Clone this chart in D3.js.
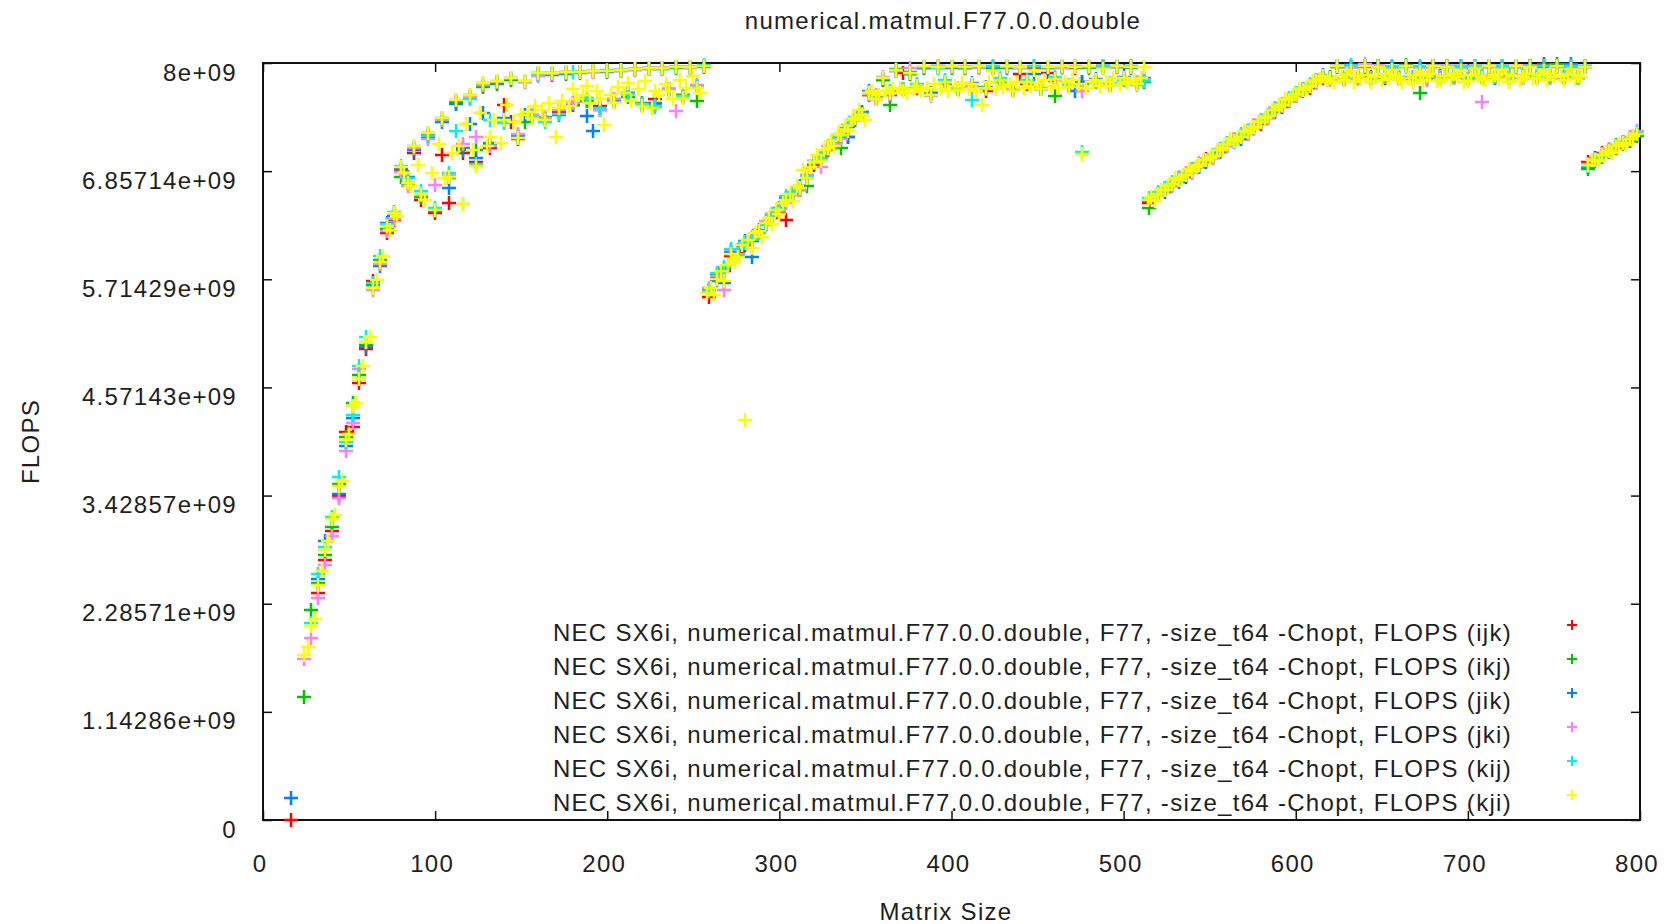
<!DOCTYPE html>
<html>
<head>
<meta charset="utf-8">
<script src="https://cdn.jsdelivr.net/npm/d3@7"></script>
<style>
  html, body { margin: 0; padding: 0; background: #fff; }
  svg { display: block; }
  text { font-family: "Liberation Sans", Arial, sans-serif; font-size: 24px; letter-spacing: 1.3px; fill: #1e1e1e; }
</style>
</head>
<body>
<svg id="chart" width="1675" height="924"></svg>
<script>
// Labels
const chartTitle = "numerical.matmul.F77.0.0.double";
const xTitle = "Matrix Size";
const yTitle = "FLOPS";
const xTickLabels = ["0", "100", "200", "300", "400", "500", "600", "700", "800"];
const yTickLabels = ["0", "1.14286e+09", "2.28571e+09", "3.42857e+09", "4.57143e+09",
                     "5.71429e+09", "6.85714e+09", "8e+09"];
const legendPrefix = "NEC SX6i, numerical.matmul.F77.0.0.double, F77, -size_t64 -Chopt, FLOPS";
const loopOrders = ["ijk", "ikj", "jik", "jki", "kij", "kji"];
const orderColors = ["#ff0000", "#00c000", "#0080ff", "#ff80ff", "#00eeee", "#ffff00"];

// Matrix sizes measured for ijk, ikj, jik, jki, kij
const sizes = [
  16,20,24,28,32,36,40,44,
  48,52,56,60,64,68,72,76,
  80,84,88,92,96,100,104,108,
  112,116,120,124,128,132,136,140,
  144,148,152,156,160,164,168,172,
  176,180,184,188,192,196,200,204,
  208,212,216,220,224,228,232,236,
  240,244,248,252,256,259,264,268,
  272,276,280,284,288,292,296,300,
  304,308,312,316,320,324,328,332,
  336,340,344,348,352,356,360,364,
  368,372,376,380,384,388,392,396,
  400,404,408,412,416,420,424,428,
  432,436,440,444,448,452,456,460,
  464,468,472,476,480,484,488,492,
  496,500,504,508,512,515,520,524,
  528,532,536,540,544,548,552,556,
  560,564,568,572,576,580,584,588,
  592,596,600,604,608,612,616,620,
  624,628,632,636,640,644,648,652,
  656,660,664,668,672,676,680,684,
  688,692,696,700,704,708,712,716,
  720,724,728,732,736,740,744,748,
  752,756,760,764,768,770,774,778,
  782,786,790,794,798
];

// Matrix sizes measured for kji
const kjiSizes = [
  24,26,28,30,32,34,36,38,
  40,42,44,46,48,50,52,54,
  56,58,60,62,64,66,68,70,
  72,74,76,78,80,82,84,86,
  88,90,92,94,96,98,100,102,
  104,106,108,110,112,114,116,118,
  120,122,124,126,128,130,132,134,
  136,138,140,142,144,146,148,150,
  152,154,156,158,160,162,164,166,
  168,170,172,174,176,178,180,182,
  184,186,188,190,192,194,196,198,
  200,202,204,206,208,210,212,214,
  216,218,220,222,224,226,228,230,
  232,234,236,238,240,242,244,246,
  248,250,252,254,256,258,260,262,
  264,266,268,270,272,274,276,278,
  280,282,284,286,288,290,292,294,
  296,298,300,302,304,306,308,310,
  312,314,316,318,320,322,324,326,
  328,330,332,334,336,338,340,342,
  344,346,348,350,352,354,356,358,
  360,362,364,366,368,370,372,374,
  376,378,380,382,384,386,388,390,
  392,394,396,398,400,402,404,406,
  408,410,412,414,416,418,420,422,
  424,426,428,430,432,434,436,438,
  440,442,444,446,448,450,452,454,
  456,458,460,462,464,466,468,470,
  472,474,476,478,480,482,484,486,
  488,490,492,494,496,498,500,502,
  504,506,508,510,512,514,516,518,
  520,522,524,526,528,530,532,534,
  536,538,540,542,544,546,548,550,
  552,554,556,558,560,562,564,566,
  568,570,572,574,576,578,580,582,
  584,586,588,590,592,594,596,598,
  600,602,604,606,608,610,612,614,
  616,618,620,622,624,626,628,630,
  632,634,636,638,640,642,644,646,
  648,650,652,654,656,658,660,662,
  664,666,668,670,672,674,676,678,
  680,682,684,686,688,690,692,694,
  696,698,700,702,704,706,708,710,
  712,714,716,718,720,722,724,726,
  728,730,732,734,736,738,740,742,
  744,746,748,750,752,754,756,758,
  760,762,764,766,768,770,772,774,
  776,778,780,782,784,786,788,790,
  792,794,796,798
];

// Measured rate in GFLOPS for each loop order (null = no sample)
const ijk = [
  0,null,null,null,2.40,2.75,3.05,3.42,
  4.10,4.15,4.62,4.98,5.70,5.89,6.20,6.34,
  6.86,6.73,7.05,6.55,7.22,6.41,7.03,6.52,
  7.60,7.05,7.63,6.95,7.76,7.10,7.80,7.56,
  7.38,7.20,7.80,7.44,7.88,7.42,7.88,7.48,
  7.90,7.56,7.91,7.60,7.90,7.55,7.92,7.60,
  7.93,7.68,7.94,7.57,7.95,7.62,7.95,7.72,
  7.96,7.66,7.96,7.76,7.97,5.53,5.74,5.80,
  5.96,6.00,6.08,6.12,6.20,6.30,6.36,6.43,
  6.34,6.60,6.66,6.78,6.92,7.00,7.08,7.15,
  7.22,7.22,7.40,7.45,7.66,7.62,7.82,7.66,
  7.93,7.89,7.88,7.74,7.95,7.68,7.96,7.78,
  7.96,7.73,7.95,7.76,7.96,7.70,7.95,7.80,
  7.96,7.71,7.88,7.78,7.95,7.74,7.89,7.81,
  7.96,7.77,7.95,7.80,7.96,7.80,7.97,7.78,
  7.96,7.82,7.96,7.79,7.82,6.52,6.60,6.68,
  6.70,6.78,6.80,6.88,6.90,6.99,7.00,7.06,
  7.12,7.20,7.20,7.25,7.34,7.36,7.42,7.52,
  7.54,7.60,7.65,7.73,7.74,7.80,7.84,7.85,
  7.96,7.83,7.97,7.84,7.96,7.85,7.97,7.84,
  7.96,7.83,7.97,7.84,7.96,7.85,7.97,7.86,
  7.96,7.85,7.97,7.84,7.96,7.86,7.97,7.84,
  7.96,7.84,7.97,7.86,7.97,7.85,7.99,7.86,
  7.97,7.85,7.96,7.84,7.96,6.95,7.00,7.05,
  7.08,7.10,7.16,7.18,7.24
];
const ikj = [
  null,null,1.30,2.22,2.50,2.80,3.10,3.55,
  4.05,4.41,4.70,5.02,5.65,5.92,6.25,6.41,
  6.80,6.72,7.10,6.58,7.26,6.46,7.42,6.78,
  7.58,7.08,7.66,7.08,7.75,7.15,7.78,7.38,
  7.82,7.24,7.38,7.45,7.87,7.43,7.89,7.50,
  7.89,7.58,7.90,7.60,7.92,7.50,7.92,7.62,
  7.92,7.64,7.93,7.58,7.94,7.56,7.94,7.72,
  7.95,7.66,7.95,7.60,7.96,5.60,5.76,5.82,
  6.00,5.96,6.10,6.14,6.22,6.30,6.40,6.46,
  6.56,6.62,6.70,6.70,6.94,7.02,7.10,7.14,
  7.10,7.32,7.42,7.48,7.66,7.63,7.82,7.56,
  7.94,7.72,7.88,7.75,7.96,7.67,7.95,7.79,
  7.96,7.72,7.95,7.77,7.96,7.74,7.95,7.80,
  7.96,7.71,7.95,7.79,7.96,7.73,7.95,7.65,
  7.96,7.76,7.96,7.78,7.95,7.81,7.96,7.77,
  7.96,7.83,7.96,7.80,7.80,6.47,6.63,6.68,
  6.73,6.78,6.82,6.87,6.93,6.96,7.03,7.07,
  7.15,7.19,7.23,7.26,7.33,7.39,7.45,7.49,
  7.57,7.60,7.68,7.70,7.77,7.80,7.85,7.85,
  7.96,7.83,7.96,7.86,7.97,7.84,7.96,7.85,
  7.96,7.85,7.98,7.83,7.68,7.86,7.97,7.84,
  7.97,7.85,7.96,7.86,7.97,7.84,7.96,7.85,
  7.97,7.86,7.96,7.85,7.97,7.86,7.98,7.84,
  7.99,7.85,7.96,7.85,7.96,6.88,6.97,7.02,
  7.06,7.13,7.14,7.19,7.23
];
const jik = [
  0.23,null,null,null,2.55,2.95,3.19,3.45,
  3.95,4.25,4.66,5.00,5.62,5.85,6.31,6.38,
  6.88,6.80,7.08,6.62,7.24,6.44,7.38,6.68,
  7.57,7.10,7.36,7.00,7.47,7.14,7.79,7.42,
  7.83,7.22,7.45,7.44,7.89,7.41,7.87,7.45,
  7.88,7.56,7.89,7.44,7.28,7.52,7.91,7.60,
  7.93,7.68,7.94,7.56,7.95,7.58,7.95,7.71,
  7.96,7.64,7.96,7.76,7.97,5.60,5.70,5.67,
  6.00,6.02,6.12,5.95,6.24,6.32,6.37,6.47,
  6.57,6.63,6.69,6.82,6.96,7.01,7.11,7.17,
  7.25,7.22,7.40,7.48,7.70,7.65,7.83,7.69,
  7.92,7.73,7.90,7.77,7.95,7.68,7.97,7.81,
  7.95,7.73,7.96,7.79,7.97,7.75,7.96,7.83,
  7.95,7.72,7.96,7.81,7.88,7.73,7.95,7.84,
  7.96,7.76,7.70,7.80,7.96,7.83,7.97,7.77,
  7.97,7.85,7.95,7.79,7.84,6.54,6.61,6.64,
  6.71,6.74,6.81,6.85,6.90,6.95,7.01,7.06,
  7.13,7.17,7.20,7.28,7.31,7.37,7.43,7.48,
  7.55,7.62,7.66,7.72,7.75,7.82,7.87,7.83,
  7.97,7.82,7.96,7.85,7.97,7.84,7.97,7.85,
  7.96,7.84,7.97,7.85,7.96,7.83,7.97,7.86,
  7.97,7.86,7.96,7.84,7.97,7.85,7.96,7.84,
  7.97,7.85,7.96,7.84,7.97,7.85,7.96,7.86,
  7.97,7.84,7.99,7.85,7.97,6.90,6.96,7.01,
  7.07,7.11,7.16,7.21,7.24
];
const jki = [
  null,null,1.70,1.92,2.35,2.70,3.00,3.40,
  3.90,4.20,4.77,5.05,5.60,5.88,6.22,6.35,
  6.85,6.70,7.10,6.60,7.20,6.71,7.40,6.82,
  7.61,7.14,7.64,7.22,7.77,7.12,7.80,7.39,
  7.84,7.25,7.80,7.45,7.86,7.42,7.88,7.50,
  7.90,7.58,7.91,7.63,7.91,7.50,7.92,7.62,
  7.92,7.67,7.93,7.57,7.94,7.55,7.95,7.73,
  7.49,7.65,7.95,7.77,7.97,5.62,5.75,5.60,
  6.02,5.98,6.10,6.16,6.20,6.33,6.40,6.44,
  6.52,6.60,6.66,6.82,6.94,6.90,7.12,7.14,
  7.20,7.35,7.43,7.46,7.67,7.66,7.85,7.67,
  7.92,7.71,7.95,7.75,7.96,7.65,7.97,7.79,
  7.96,7.74,7.97,7.76,7.95,7.73,7.97,7.81,
  7.96,7.72,7.95,7.80,7.97,7.75,7.96,7.82,
  7.95,7.77,7.97,7.70,7.96,7.81,7.95,7.78,
  7.96,7.83,7.97,7.80,7.83,6.56,6.60,6.68,
  6.70,6.79,6.84,6.84,6.94,6.98,7.00,7.09,
  7.12,7.20,7.24,7.25,7.34,7.40,7.42,7.52,
  7.55,7.63,7.65,7.73,7.78,7.79,7.85,7.82,
  7.97,7.85,7.96,7.83,7.99,7.84,7.97,7.86,
  7.96,7.84,7.97,7.85,7.96,7.82,7.96,7.85,
  7.97,7.84,7.96,7.86,7.97,7.59,7.96,7.85,
  7.96,7.85,7.97,7.84,7.96,7.86,7.97,7.84,
  7.96,7.85,7.97,7.86,7.96,6.93,6.99,7.04,
  7.09,7.12,7.17,7.22,7.28
];
const kij = [
  null,null,null,2.08,2.60,2.89,3.20,3.62,
  4.00,4.28,4.80,5.10,5.67,5.96,6.30,6.43,
  6.91,6.78,7.12,6.65,7.23,6.47,7.41,6.84,
  7.28,6.51,7.62,6.93,7.79,7.40,7.81,7.37,
  7.84,7.21,7.81,7.43,7.88,7.38,7.89,7.46,
  7.89,7.90,7.90,7.63,7.92,7.52,7.93,7.59,
  7.93,7.67,7.94,7.56,7.95,7.54,7.94,7.71,
  7.96,7.64,7.96,7.75,7.98,5.59,5.78,5.84,
  6.03,5.97,6.11,6.13,6.21,6.29,6.39,6.46,
  6.59,6.64,6.67,6.81,6.96,7.00,7.09,7.18,
  7.23,7.34,7.43,7.46,7.69,7.63,7.84,7.70,
  7.93,7.72,7.89,7.78,7.96,7.66,7.95,7.82,
  7.97,7.72,7.96,7.61,7.96,7.74,7.97,7.84,
  7.97,7.71,7.96,7.82,7.97,7.75,7.96,7.85,
  7.97,7.77,7.96,7.06,7.96,7.80,7.97,7.79,
  7.96,7.82,7.97,7.77,7.81,6.57,6.64,6.67,
  6.74,6.77,6.83,6.88,6.91,6.98,7.03,7.09,
  7.15,7.17,7.25,7.28,7.33,7.39,7.45,7.51,
  7.57,7.62,7.68,7.72,7.77,7.82,7.86,7.84,
  7.97,7.83,7.98,7.85,7.97,7.83,7.96,7.85,
  7.97,7.85,7.96,7.84,7.97,7.85,7.96,7.84,
  7.96,7.85,7.97,7.83,7.96,7.86,7.97,7.85,
  7.97,7.84,7.96,7.86,7.97,7.85,7.97,7.85,
  7.96,7.86,7.97,7.84,7.97,6.91,6.99,7.02,
  7.08,7.12,7.17,7.21,7.26
];
const kji = [
  1.74,1.83,2.05,2.12,2.48,2.63,2.85,2.95,
  3.18,3.22,3.53,3.58,4.02,4.08,4.38,4.41,
  4.66,4.80,5.05,5.10,5.62,5.71,5.90,5.96,
  6.28,6.24,6.41,6.38,6.90,6.84,6.73,6.70,
  7.12,6.92,6.62,6.55,7.26,6.84,6.45,7.14,
  7.42,6.78,6.80,7.05,7.61,7.12,6.51,7.36,
  7.66,7.08,6.91,7.47,7.79,7.12,7.22,7.40,
  7.81,7.15,7.40,7.56,7.84,7.38,7.21,7.45,
  7.81,7.48,7.42,7.55,7.89,7.50,7.40,7.58,
  7.89,7.22,7.52,7.60,7.90,7.55,7.72,7.62,
  7.91,7.66,7.76,7.58,7.92,7.70,7.62,7.34,
  7.92,7.66,7.58,7.75,7.93,7.68,7.79,7.60,
  7.94,7.72,7.55,7.81,7.95,7.52,7.70,7.66,
  7.95,7.78,7.70,7.62,7.96,7.82,7.63,7.74,
  7.96,7.86,7.74,7.68,7.97,5.57,5.62,5.55,
  5.72,5.80,5.70,5.86,5.98,5.90,5.95,6.08,
  4.23,6.13,6.05,6.20,6.22,6.16,6.31,6.36,
  6.30,6.45,6.40,6.52,6.55,6.62,6.54,6.70,
  6.68,6.87,6.78,6.90,6.95,7.03,6.96,7.08,
  7.10,7.18,7.12,7.25,7.24,7.33,7.28,7.40,
  7.42,7.50,7.45,7.40,7.68,7.70,7.62,7.66,
  7.84,7.70,7.68,7.72,7.93,7.74,7.70,7.68,
  7.89,7.72,7.76,7.70,7.97,7.74,7.66,7.78,
  7.96,7.72,7.80,7.70,7.97,7.76,7.71,7.79,
  7.96,7.73,7.78,7.70,7.97,7.56,7.74,7.80,
  7.92,7.72,7.82,7.75,7.97,7.78,7.70,7.80,
  7.96,7.74,7.80,7.76,7.93,7.79,7.72,7.82,
  7.96,7.76,7.83,7.74,7.97,7.80,7.75,7.82,
  7.96,7.78,7.04,7.74,7.97,7.80,7.82,7.76,
  7.94,7.80,7.76,7.84,7.97,7.78,7.84,7.80,
  7.96,7.82,7.78,7.84,7.96,6.55,6.58,6.54,
  6.62,6.66,6.66,6.70,6.72,6.78,6.76,6.80,
  6.82,6.88,6.86,6.90,6.92,6.98,6.97,7.00,
  7.02,7.08,7.08,7.10,7.14,7.20,7.18,7.20,
  7.22,7.28,7.27,7.30,7.32,7.38,7.38,7.42,
  7.44,7.50,7.50,7.54,7.56,7.62,7.61,7.64,
  7.67,7.72,7.71,7.74,7.76,7.81,7.81,7.83,
  7.86,7.82,7.84,7.80,7.97,7.85,7.82,7.88,
  7.92,7.80,7.86,7.83,7.97,7.87,7.80,7.85,
  7.96,7.82,7.88,7.84,7.93,7.86,7.83,7.80,
  7.97,7.84,7.79,7.87,7.90,7.82,7.86,7.88,
  7.97,7.81,7.82,7.86,7.96,7.83,7.88,7.85,
  7.92,7.80,7.81,7.87,7.95,7.86,7.84,7.82,
  7.97,7.85,7.87,7.83,7.93,7.88,7.80,7.86,
  7.97,7.82,7.85,7.88,7.96,7.84,7.83,7.87,
  7.92,7.82,7.88,7.85,7.97,7.86,7.82,7.88,
  7.94,7.83,7.86,7.85,7.96,6.92,6.97,6.98,
  6.96,7.03,7.06,7.07,7.05,7.12,7.14,7.15,
  7.13,7.20,7.23,7.25
];

// Series in drawing order (kji ends up on top)
const seriesList = [
  { name: loopOrders[0], color: orderColors[0], sizes: sizes, values: ijk },
  { name: loopOrders[1], color: orderColors[1], sizes: sizes, values: ikj },
  { name: loopOrders[2], color: orderColors[2], sizes: sizes, values: jik },
  { name: loopOrders[3], color: orderColors[3], sizes: sizes, values: jki },
  { name: loopOrders[4], color: orderColors[4], sizes: sizes, values: kij },
  { name: loopOrders[5], color: orderColors[5], sizes: kjiSizes, values: kji }
];

// Layout
const plot = { left: 263, right: 1640, top: 63, bottom: 820 };
const tickLen = 9;
const markerR = 7;
const svg = d3.select("#chart");

const x = d3.scaleLinear().domain([0, 800]).range([plot.left, plot.right]);
const y = d3.scaleLinear().domain([0, 8e9]).range([plot.bottom, plot.top]);

const xTicks = xTickLabels.map(Number);
const yTicks = yTickLabels.map(Number);

// Tick marks on all four sides, pointing inward
function styleTicks(g) {
  g.select(".domain").remove();
  g.selectAll(".tick line").attr("stroke", "#111").attr("stroke-width", 1.5);
}

svg.append("g")
  .attr("transform", `translate(0,${plot.bottom})`)
  .call(d3.axisBottom(x).tickValues(xTicks).tickSizeInner(-tickLen).tickSizeOuter(0)
        .tickFormat((d, i) => xTickLabels[i]))
  .call(styleTicks)
  .call(g => g.selectAll(".tick text")
    .attr("y", 51.5).attr("dy", null).attr("dx", -3.5)
    .attr("fill", "#1e1e1e"))
  .attr("font-size", null).attr("font-family", null);

svg.append("g")
  .attr("transform", `translate(0,${plot.top})`)
  .call(d3.axisTop(x).tickValues(xTicks).tickSizeInner(-tickLen).tickSizeOuter(0).tickFormat(""))
  .call(styleTicks);

svg.append("g")
  .attr("transform", `translate(${plot.left},0)`)
  .call(d3.axisLeft(y).tickValues(yTicks).tickSizeInner(-tickLen).tickSizeOuter(0)
        .tickFormat((d, i) => yTickLabels[i]))
  .call(styleTicks)
  .call(g => g.selectAll(".tick text")
    .attr("x", -26).attr("y", 17).attr("dy", null)
    .attr("fill", "#1e1e1e"))
  .attr("font-size", null).attr("font-family", null);

svg.append("g")
  .attr("transform", `translate(${plot.right},0)`)
  .call(d3.axisRight(y).tickValues(yTicks).tickSizeInner(-tickLen).tickSizeOuter(0).tickFormat(""))
  .call(styleTicks);

// Plot frame
svg.append("rect")
  .attr("x", plot.left).attr("y", plot.top)
  .attr("width", plot.right - plot.left).attr("height", plot.bottom - plot.top)
  .attr("fill", "none").attr("stroke", "#111").attr("stroke-width", 2);

// Titles
svg.append("text").attr("x", 943).attr("y", 29).attr("text-anchor", "middle").text(chartTitle);
svg.append("text").attr("x", 946).attr("y", 920).attr("text-anchor", "middle").text(xTitle);
svg.append("text")
  .attr("transform", `translate(39,${(plot.top + plot.bottom) / 2}) rotate(-90)`)
  .attr("text-anchor", "middle").text(yTitle);

// "+" marker path
const cross = (cx, cy, r) => `M${cx - r},${cy}h${2 * r}M${cx},${cy - r}v${2 * r}`;

// Data points, one layer per loop order
seriesList.forEach(ser => {
  const pts = ser.sizes.map((s, i) => ({ s, v: ser.values[i] })).filter(d => d.v !== null);
  svg.append("g")
    .attr("stroke", ser.color).attr("stroke-width", 2.5).attr("fill", "none")
    .selectAll("path")
    .data(pts)
    .join("path")
    .attr("d", d => cross(Math.round(x(d.s)), Math.round(y(d.v * 1e9)), markerR));
});

// Legend
const legend = svg.append("g");
seriesList.forEach((ser, k) => {
  const rowY = 625 + 34 * k;
  legend.append("text")
    .attr("x", 1512).attr("y", rowY + 15.5)
    .attr("text-anchor", "end")
    .text(`${legendPrefix} (${ser.name})`);
  legend.append("path")
    .attr("d", cross(1572, rowY, 5))
    .attr("stroke", ser.color).attr("stroke-width", 2).attr("fill", "none");
});
</script>
</body>
</html>
